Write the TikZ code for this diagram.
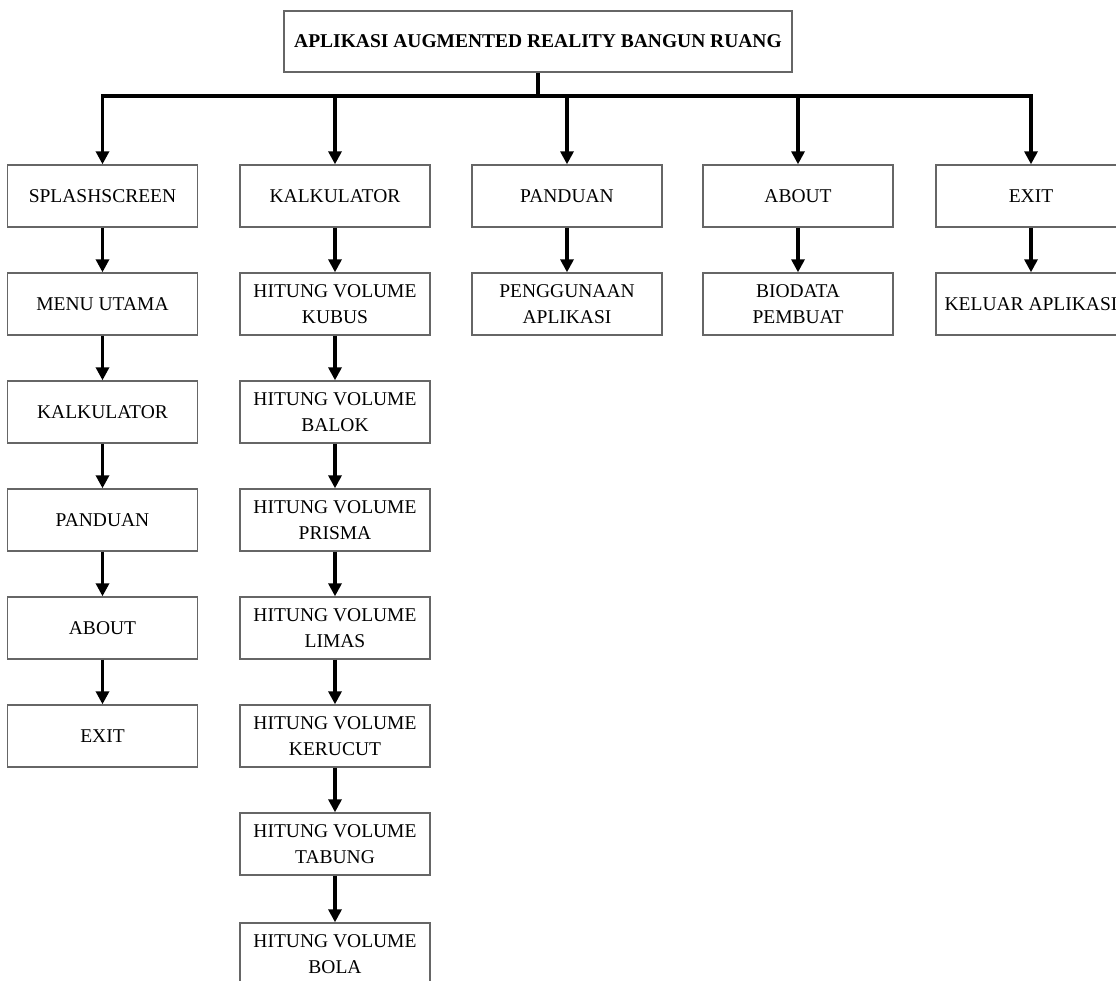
\documentclass[tikz,border=0pt]{standalone}
\usepackage{fontspec}
\setmainfont{Liberation Serif}
\usetikzlibrary{arrows.meta}
\tikzset{
  box/.style={draw=black!60, line width=1.4pt, fill=white, minimum width=190pt, minimum height=62pt,
    inner sep=0pt, align=center, font=\fontsize{19.5}{26}\selectfont},
  titlebox/.style={draw=black!60, line width=1.4pt, fill=white, minimum width=508pt, minimum height=61pt,
    inner sep=0pt, align=center, font=\fontsize{19.5}{22}\selectfont\bfseries},
  link/.style={draw=black, line width=3.2pt},
  arr/.style={link, -{Triangle[length=13pt,width=13pt]}},
}
\begin{document}
\begin{tikzpicture}[x=1pt,y=-1pt]
\useasboundingbox (0,0) rectangle (1116,980);
\fill[white] (0,0) rectangle (1116,980);
\clip (0,0) rectangle (1116,980);

\node[titlebox] (top) at (538,41.5) {APLIKASI AUGMENTED REALITY BANGUN RUANG};
\coordinate (bar) at (0,96);

% column 1
\node[box] (a1) at (102.5,196) {SPLASHSCREEN};
\node[box] (a2) at (102.5,304) {MENU UTAMA};
\node[box] (a3) at (102.5,412) {KALKULATOR};
\node[box] (a4) at (102.5,520) {PANDUAN};
\node[box] (a5) at (102.5,628) {ABOUT};
\node[box] (a6) at (102.5,736) {EXIT};
% column 2
\node[box] (b1) at (335,196) {KALKULATOR};
\node[box] (b2) at (335,304) {HITUNG VOLUME\\KUBUS};
\node[box] (b3) at (335,412) {HITUNG VOLUME\\BALOK};
\node[box] (b4) at (335,520) {HITUNG VOLUME\\PRISMA};
\node[box] (b5) at (335,628) {HITUNG VOLUME\\LIMAS};
\node[box] (b6) at (335,736) {HITUNG VOLUME\\KERUCUT};
\node[box] (b7) at (335,844) {HITUNG VOLUME\\TABUNG};
\node[box] (b8) at (335,954) {HITUNG VOLUME\\BOLA};
% column 3
\node[box] (c1) at (567,196) {PANDUAN};
\node[box] (c2) at (567,304) {PENGGUNAAN\\APLIKASI};
% column 4
\node[box] (d1) at (798,196) {ABOUT};
\node[box] (d2) at (798,304) {BIODATA\\PEMBUAT};
% column 5
\node[box] (e1) at (1031,196) {EXIT};
\node[box] (e2) at (1031,304) {KELUAR APLIKASI};

% trunk and bar
\draw[link] (top.south) -- (top.south |- bar);
\draw[link, line cap=rect] (a1.north |- bar) -- (e1.north |- bar);
\foreach \n in {a1,b1,c1,d1,e1}
  \draw[arr] (\n.north |- bar) -- (\n.north);

% column chains
\foreach \u/\v in {a1/a2,a2/a3,a3/a4,a4/a5,a5/a6,
                   b1/b2,b2/b3,b3/b4,b4/b5,b5/b6,b6/b7,b7/b8,
                   c1/c2,d1/d2,e1/e2}
  \draw[arr] (\u.south) -- (\v.north);
\end{tikzpicture}
\end{document}
